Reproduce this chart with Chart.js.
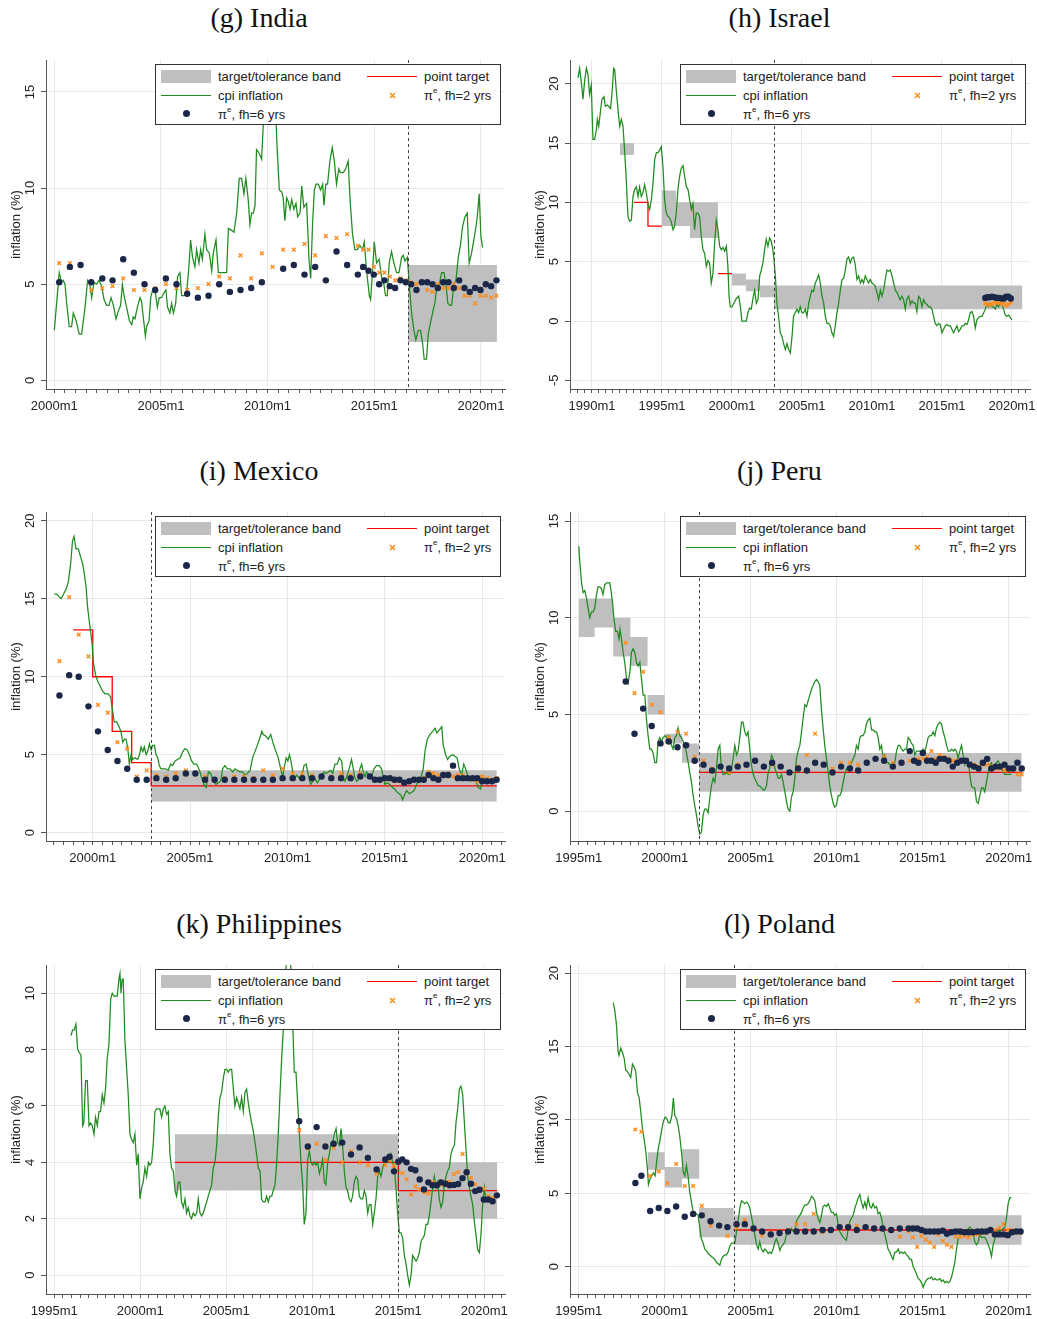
<!DOCTYPE html>
<html><head><meta charset="utf-8">
<script src="https://cdn.jsdelivr.net/npm/chart.js@4.4.1/dist/chart.umd.min.js"></script>
<style>
html,body{margin:0;padding:0;background:#fff;}
body{width:1037px;height:1319px;position:relative;overflow:hidden;font-family:"Liberation Sans",Arial,Helvetica,sans-serif;}
.ttl{position:absolute;height:30px;line-height:30px;text-align:center;font-family:"Liberation Serif","Times New Roman",serif;font-size:28px;color:#111;}
.wrap{position:absolute;}
.wrap canvas{display:block;}
.lg{position:absolute;box-sizing:border-box;width:346px;height:61px;background:#fff;border:1px solid #333;font-size:13px;color:#222;z-index:5;}
.lg .t{position:absolute;height:16px;line-height:16px;white-space:nowrap;}
.lg .t sup{font-size:8px;vertical-align:7px;line-height:0;}
.lg .sw{position:absolute;}
</style></head>
<body>
<script>
// ---------------- DATA ----------------
const TICK_SUFFIX = 'm1';
const SERIES_LABELS = ['target/tolerance band','point target','cpi inflation','π|e|, fh=2 yrs','π|e|, fh=6 yrs'];

// India
const IND_CPI = [[2000.0,2.6],[2000.23,5.6],[2000.34,5.1],[2000.42,5.2],[2000.5,5.0],[2000.58,4.0],[2000.7,2.8],[2000.81,2.8],[2000.89,3.5],[2001.02,3.1],[2001.17,2.4],[2001.28,2.4],[2001.44,3.8],[2001.56,5.2],[2001.67,5.0],[2001.75,4.3],[2001.86,5.1],[2001.98,5.0],[2002.1,5.2],[2002.22,4.9],[2002.33,4.2],[2002.45,3.9],[2002.56,3.9],[2002.66,4.3],[2002.77,3.9],[2002.89,3.2],[2003.0,3.6],[2003.11,3.9],[2003.19,5.0],[2003.27,4.4],[2003.39,3.8],[2003.52,3.1],[2003.63,2.9],[2003.7,3.3],[2003.78,3.2],[2003.89,3.8],[2004.02,4.3],[2004.09,4.1],[2004.17,3.3],[2004.27,2.3],[2004.33,2.8],[2004.44,3.1],[2004.52,4.3],[2004.61,4.7],[2004.72,4.7],[2004.83,3.8],[2004.92,4.3],[2005.03,4.3],[2005.11,4.5],[2005.23,4.7],[2005.31,3.8],[2005.42,3.5],[2005.5,4.0],[2005.58,3.5],[2005.69,4.0],[2005.78,5.4],[2005.89,5.6],[2005.97,4.4],[2006.08,4.4],[2006.2,4.5],[2006.31,5.9],[2006.39,7.3],[2006.48,6.4],[2006.59,5.9],[2006.67,6.8],[2006.78,6.1],[2006.86,6.8],[2006.94,6.3],[2007.06,7.6],[2007.14,6.8],[2007.27,6.6],[2007.38,5.7],[2007.45,6.6],[2007.58,7.3],[2007.69,5.6],[2007.84,5.6],[2008.08,5.6],[2008.16,7.9],[2008.31,7.8],[2008.42,7.7],[2008.55,8.7],[2008.67,10.5],[2008.78,10.5],[2008.89,9.7],[2008.98,10.5],[2009.09,9.4],[2009.17,8.1],[2009.25,8.7],[2009.33,8.7],[2009.41,9.1],[2009.48,12.0],[2009.61,11.8],[2009.72,11.5],[2009.8,13.4],[2009.88,14.7],[2009.95,15.6],[2010.1,16.2],[2010.25,15.5],[2010.39,13.6],[2010.45,12.0],[2010.55,9.9],[2010.66,9.8],[2010.73,9.5],[2010.81,8.3],[2010.89,9.5],[2010.97,9.3],[2011.05,8.9],[2011.13,9.4],[2011.23,8.9],[2011.33,9.2],[2011.41,8.5],[2011.52,8.7],[2011.6,10.1],[2011.7,9.0],[2011.83,9.2],[2011.94,6.3],[2012.02,5.3],[2012.11,8.2],[2012.19,9.9],[2012.27,10.2],[2012.38,10.2],[2012.48,9.9],[2012.58,10.2],[2012.64,9.1],[2012.73,10.2],[2012.81,10.2],[2012.92,11.4],[2013.03,12.1],[2013.13,11.4],[2013.23,10.2],[2013.34,11.0],[2013.42,10.8],[2013.55,10.8],[2013.66,11.0],[2013.78,11.4],[2013.86,9.5],[2013.98,7.6],[2014.09,6.8],[2014.2,6.8],[2014.33,7.0],[2014.45,6.8],[2014.53,7.2],[2014.64,5.7],[2014.77,4.4],[2014.83,4.2],[2014.92,5.7],[2015.0,7.2],[2015.11,6.1],[2015.23,6.3],[2015.34,5.4],[2015.45,5.0],[2015.53,4.4],[2015.61,4.4],[2015.7,6.1],[2015.81,6.7],[2015.92,6.1],[2016.05,5.6],[2016.16,5.6],[2016.28,6.4],[2016.36,6.5],[2016.44,6.2],[2016.55,6.4],[2016.64,5.0],[2016.75,3.5],[2016.86,2.6],[2016.95,2.1],[2017.06,2.6],[2017.17,2.6],[2017.27,1.9],[2017.34,1.1],[2017.45,1.1],[2017.53,2.4],[2017.64,3.0],[2017.77,3.7],[2017.84,4.0],[2017.95,5.0],[2018.05,5.0],[2018.16,5.6],[2018.27,5.6],[2018.36,5.0],[2018.45,4.0],[2018.55,3.9],[2018.63,3.9],[2018.73,5.0],[2018.83,5.2],[2018.94,6.4],[2019.05,7.1],[2019.14,8.0],[2019.25,8.5],[2019.36,8.7],[2019.45,6.1],[2019.56,6.6],[2019.67,7.3],[2019.77,8.0],[2019.83,8.5],[2019.92,9.7],[2020.0,7.5],[2020.08,6.9]];
const IND_PE6 = [[2000.23,5.1],[2000.73,5.9],[2001.23,6.0],[2001.73,5.1],[2002.25,5.3],[2002.73,5.2],[2003.23,6.3],[2003.73,5.6],[2004.23,5.0],[2004.73,4.7],[2005.23,5.3],[2005.73,5.0],[2006.23,4.5],[2006.73,4.3],[2007.23,4.4],[2007.73,5.0],[2008.23,4.6],[2008.73,4.7],[2009.23,4.8],[2009.73,5.1],[2010.73,5.8],[2011.23,6.0],[2011.73,5.5],[2012.23,5.9],[2012.73,5.2],[2013.23,6.7],[2013.73,6.0],[2014.23,5.5],[2014.48,5.9],[2014.73,5.7],[2014.98,5.5],[2015.23,5.0],[2015.48,5.2],[2015.73,4.9],[2015.98,4.8],[2016.23,5.2],[2016.48,5.1],[2016.73,5.0],[2016.98,4.7],[2017.23,5.1],[2017.48,5.1],[2017.73,5.0],[2017.98,4.8],[2018.23,5.1],[2018.48,5.1],[2018.73,4.8],[2018.98,5.2],[2019.23,4.8],[2019.48,4.6],[2019.73,4.8],[2019.98,4.7],[2020.23,5.0],[2020.48,4.9],[2020.73,5.2]];
const IND_PE2 = [[2000.23,6.1],[2000.73,6.1],[2001.73,4.7],[2002.25,4.8],[2002.73,4.9],[2003.23,5.3],[2003.73,4.7],[2004.23,4.7],[2004.73,4.8],[2005.23,5.0],[2005.73,4.8],[2006.23,4.7],[2006.73,4.8],[2007.23,5.0],[2007.73,5.4],[2008.23,5.3],[2008.73,6.5],[2009.23,5.3],[2009.73,6.6],[2010.23,5.9],[2010.73,6.8],[2011.23,6.8],[2011.73,7.1],[2012.23,6.5],[2012.73,7.5],[2013.23,7.4],[2013.73,7.6],[2014.23,7.0],[2014.48,6.8],[2014.73,6.8],[2014.98,5.9],[2015.23,5.6],[2015.48,5.6],[2015.73,5.4],[2015.98,5.2],[2016.23,5.3],[2016.48,5.2],[2016.73,5.1],[2016.98,5.0],[2017.23,5.1],[2017.48,4.7],[2017.73,4.6],[2017.98,5.0],[2018.23,4.8],[2018.48,4.8],[2018.73,5.0],[2018.98,4.8],[2019.23,4.4],[2019.48,4.4],[2019.73,4.0],[2019.98,4.4],[2020.23,4.4],[2020.48,4.3],[2020.73,4.4]];
const IND_BAND = [[2016.58,2020.75,2,6]];
const IND_TARGET = [];
const IND_REGIME = 2016.58;

// Israel
const ISR_CPI = [[1989.0,20.5],[1989.12,21.3],[1989.24,20.1],[1989.36,18.7],[1989.48,20.3],[1989.6,21.3],[1989.71,20.8],[1989.83,19.1],[1989.95,19.9],[1990.07,15.3],[1990.19,15.3],[1990.31,16.1],[1990.38,17.0],[1990.48,16.4],[1990.62,17.8],[1990.71,18.7],[1990.86,18.9],[1990.95,18.1],[1991.1,18.2],[1991.19,18.1],[1991.33,17.9],[1991.43,19.2],[1991.55,21.3],[1991.62,21.2],[1991.74,19.4],[1991.86,17.8],[1991.98,16.4],[1992.1,17.0],[1992.21,16.5],[1992.33,14.4],[1992.45,11.9],[1992.57,8.8],[1992.69,8.4],[1992.81,8.5],[1992.93,10.5],[1993.05,11.1],[1993.17,11.3],[1993.29,10.5],[1993.4,11.3],[1993.52,10.5],[1993.64,10.8],[1993.76,11.5],[1993.88,10.8],[1994.0,9.9],[1994.12,9.4],[1994.24,10.2],[1994.36,11.6],[1994.48,13.6],[1994.6,14.2],[1994.71,14.2],[1994.83,14.4],[1994.95,14.7],[1995.07,13.0],[1995.19,10.2],[1995.31,9.1],[1995.43,8.8],[1995.55,8.7],[1995.67,8.3],[1995.79,7.7],[1995.9,8.0],[1996.02,9.1],[1996.14,11.1],[1996.26,12.2],[1996.38,12.9],[1996.5,13.1],[1996.62,12.2],[1996.74,11.3],[1996.86,11.1],[1996.98,10.2],[1997.1,9.4],[1997.21,9.9],[1997.33,7.7],[1997.45,9.1],[1997.57,9.1],[1997.69,8.8],[1997.81,7.1],[1997.93,6.0],[1998.05,5.7],[1998.17,4.6],[1998.29,5.1],[1998.4,4.9],[1998.52,3.2],[1998.64,4.0],[1998.76,6.5],[1998.88,8.5],[1999.0,7.7],[1999.12,6.3],[1999.24,6.0],[1999.36,6.2],[1999.48,5.9],[1999.6,6.3],[1999.71,4.6],[1999.79,2.1],[1999.88,1.2],[2000.0,1.2],[2000.14,1.5],[2000.31,1.9],[2000.48,2.1],[2000.6,1.2],[2000.71,0.0],[2000.86,0.0],[2001.02,0.0],[2001.14,0.7],[2001.26,1.1],[2001.38,1.0],[2001.5,1.9],[2001.62,2.6],[2001.74,1.5],[2001.86,1.8],[2001.98,3.8],[2002.1,4.3],[2002.21,4.9],[2002.33,6.0],[2002.45,6.9],[2002.57,6.3],[2002.69,7.0],[2002.81,6.7],[2002.93,6.0],[2003.0,5.2],[2003.1,3.8],[2003.21,1.5],[2003.33,0.4],[2003.45,-1.0],[2003.57,-1.3],[2003.69,-1.9],[2003.81,-2.4],[2003.93,-1.9],[2004.05,-2.4],[2004.17,-2.7],[2004.29,-1.3],[2004.4,0.4],[2004.52,0.7],[2004.64,1.0],[2004.76,0.7],[2004.88,1.2],[2005.0,0.7],[2005.12,0.7],[2005.24,1.0],[2005.36,0.4],[2005.48,1.5],[2005.6,2.1],[2005.71,2.6],[2005.83,2.5],[2005.95,3.2],[2006.07,3.5],[2006.19,3.9],[2006.31,3.2],[2006.43,2.1],[2006.55,1.5],[2006.67,0.4],[2006.79,-0.2],[2006.9,-0.2],[2007.02,-0.4],[2007.14,-1.0],[2007.26,-1.3],[2007.38,-0.4],[2007.5,0.7],[2007.62,1.5],[2007.74,2.6],[2007.86,3.5],[2007.98,3.6],[2008.1,4.3],[2008.21,5.2],[2008.33,5.4],[2008.45,4.9],[2008.57,5.3],[2008.69,5.4],[2008.81,4.7],[2008.93,3.5],[2009.05,3.8],[2009.17,3.2],[2009.29,3.5],[2009.4,3.2],[2009.52,3.8],[2009.64,3.5],[2009.76,3.2],[2009.88,3.5],[2010.0,3.2],[2010.12,3.1],[2010.24,2.9],[2010.36,2.4],[2010.48,1.8],[2010.6,2.6],[2010.71,2.1],[2010.83,2.6],[2010.95,3.5],[2011.07,4.3],[2011.19,4.2],[2011.31,4.3],[2011.43,3.8],[2011.55,3.2],[2011.67,2.6],[2011.79,2.4],[2011.9,2.1],[2012.02,1.8],[2012.14,2.1],[2012.26,1.8],[2012.38,1.0],[2012.5,1.9],[2012.62,2.1],[2012.74,1.4],[2012.86,1.7],[2012.98,1.5],[2013.1,1.5],[2013.21,0.8],[2013.33,2.1],[2013.45,1.9],[2013.57,1.2],[2013.69,1.8],[2013.81,1.5],[2013.93,1.4],[2014.05,1.2],[2014.17,1.2],[2014.29,1.0],[2014.4,0.4],[2014.52,-0.2],[2014.64,-0.4],[2014.76,-0.2],[2014.88,-0.3],[2015.0,-1.0],[2015.12,-0.7],[2015.24,-0.4],[2015.36,-0.3],[2015.48,-0.4],[2015.6,-0.4],[2015.71,-0.7],[2015.83,-1.0],[2015.95,-0.7],[2016.07,-0.4],[2016.19,-0.9],[2016.31,-0.7],[2016.43,-0.4],[2016.55,-0.4],[2016.67,-0.2],[2016.79,-0.3],[2016.9,0.1],[2017.02,0.7],[2017.14,0.8],[2017.26,0.4],[2017.38,-0.6],[2017.5,0.1],[2017.62,0.3],[2017.74,0.4],[2017.86,0.4],[2017.98,0.7],[2018.1,1.0],[2018.21,1.5],[2018.33,1.2],[2018.45,1.5],[2018.57,1.2],[2018.69,1.2],[2018.81,1.0],[2018.93,1.4],[2019.05,1.2],[2019.17,1.5],[2019.29,1.4],[2019.4,1.0],[2019.52,0.5],[2019.64,0.4],[2019.76,0.5],[2019.88,0.3],[2020.0,0.1]];
const ISR_PE6 = [[2018.1,1.95],[2018.25,2.0],[2018.42,2.0],[2018.58,2.05],[2018.75,2.0],[2018.92,1.95],[2019.08,1.95],[2019.25,1.9],[2019.42,1.9],[2019.58,2.05],[2019.75,2.05],[2019.92,1.9]];
const ISR_PE2 = [[2018.1,1.5],[2018.25,1.4],[2018.42,1.35],[2018.58,1.45],[2018.75,1.5],[2018.92,1.6],[2019.08,1.55],[2019.25,1.45],[2019.42,1.5],[2019.58,1.3],[2019.75,1.4],[2019.92,1.55]];
const ISR_BAND = [[1992,1993,14,15],[1995,1996,8,11],[1996,1997,8,10],[1997,1999,7,10],[2000,2001,3,4],[2001,2002,2.5,3.5],[2002,2003,2,3],[2003,2020.75,1,3]];
const ISR_TARGET = [[1993,1994,10],[1994,1995,8],[1999,2000,4]];
const ISR_REGIME = 2003.0;

// Mexico
const MEX_CPI = [[1998.03,15.3],[1998.15,15.3],[1998.29,15.1],[1998.38,15.0],[1998.5,15.3],[1998.63,15.6],[1998.75,16.1],[1998.87,17.3],[1998.96,18.7],[1999.04,19.0],[1999.14,18.2],[1999.26,18.2],[1999.35,17.8],[1999.47,17.3],[1999.57,16.6],[1999.66,15.7],[1999.74,14.4],[1999.86,13.2],[1999.97,12.1],[2000.03,10.9],[2000.15,10.1],[2000.26,9.7],[2000.38,9.4],[2000.5,9.1],[2000.63,8.9],[2000.8,8.9],[2000.92,8.7],[2001.0,8.0],[2001.1,7.1],[2001.23,7.1],[2001.35,6.8],[2001.45,6.5],[2001.54,5.8],[2001.63,6.0],[2001.71,6.0],[2001.8,5.4],[2001.88,4.4],[2001.97,5.0],[2002.05,4.7],[2002.17,4.8],[2002.31,4.7],[2002.4,5.0],[2002.48,5.5],[2002.57,5.2],[2002.65,5.5],[2002.74,5.0],[2002.82,5.2],[2002.91,5.7],[2003.0,5.3],[2003.08,5.6],[2003.17,5.6],[2003.25,5.0],[2003.34,4.8],[2003.42,4.3],[2003.5,4.1],[2003.63,4.1],[2003.75,4.1],[2003.88,4.0],[2004.0,4.4],[2004.1,4.3],[2004.23,4.6],[2004.35,4.7],[2004.49,4.8],[2004.62,5.2],[2004.74,5.4],[2004.86,5.3],[2004.96,5.0],[2005.08,4.6],[2005.2,4.4],[2005.34,4.4],[2005.48,4.0],[2005.6,3.5],[2005.71,3.1],[2005.82,2.9],[2005.94,3.9],[2006.06,3.8],[2006.19,3.3],[2006.33,3.1],[2006.45,3.2],[2006.57,3.3],[2006.67,4.1],[2006.79,4.3],[2006.91,4.1],[2007.05,4.1],[2007.19,3.9],[2007.3,4.1],[2007.42,4.0],[2007.56,3.9],[2007.7,3.9],[2007.82,3.7],[2007.94,3.8],[2008.08,4.0],[2008.21,4.8],[2008.33,5.2],[2008.45,5.6],[2008.59,6.1],[2008.68,6.5],[2008.76,6.3],[2008.88,6.2],[2009.02,6.0],[2009.14,6.3],[2009.27,5.7],[2009.41,5.2],[2009.53,4.8],[2009.65,4.1],[2009.75,3.6],[2009.84,4.2],[2009.93,4.8],[2010.02,4.6],[2010.1,5.0],[2010.18,4.6],[2010.27,3.9],[2010.35,3.4],[2010.47,3.7],[2010.61,3.5],[2010.73,3.6],[2010.85,4.3],[2010.96,4.4],[2011.07,3.7],[2011.19,3.1],[2011.29,3.3],[2011.41,3.5],[2011.53,3.2],[2011.63,3.4],[2011.75,3.6],[2011.87,3.9],[2011.98,3.8],[2012.1,3.9],[2012.22,4.0],[2012.32,3.8],[2012.44,4.4],[2012.56,4.4],[2012.66,4.8],[2012.78,4.6],[2012.87,3.5],[2012.95,3.3],[2013.04,3.6],[2013.12,3.9],[2013.21,4.3],[2013.29,4.7],[2013.38,4.1],[2013.46,3.5],[2013.55,3.3],[2013.64,3.4],[2013.72,4.1],[2013.81,4.4],[2013.89,3.9],[2013.98,3.6],[2014.06,3.9],[2014.2,3.7],[2014.32,3.6],[2014.44,4.1],[2014.57,4.3],[2014.71,4.3],[2014.83,4.1],[2014.91,3.6],[2015.0,3.1],[2015.12,3.2],[2015.26,3.1],[2015.4,2.9],[2015.51,2.8],[2015.63,2.6],[2015.74,2.5],[2015.83,2.4],[2015.91,2.1],[2016.0,2.4],[2016.12,2.7],[2016.26,2.5],[2016.38,2.6],[2016.5,2.7],[2016.63,3.1],[2016.77,3.3],[2016.89,3.7],[2016.97,4.1],[2017.06,5.2],[2017.18,6.0],[2017.32,6.3],[2017.46,6.5],[2017.58,6.7],[2017.67,6.4],[2017.8,6.6],[2017.92,6.8],[2018.0,5.6],[2018.12,5.0],[2018.22,4.7],[2018.34,4.9],[2018.48,5.0],[2018.6,4.9],[2018.71,4.8],[2018.82,4.1],[2018.94,3.7],[2019.05,4.4],[2019.15,4.1],[2019.27,3.6],[2019.39,3.3],[2019.53,3.5],[2019.67,3.3],[2019.8,2.9],[2019.92,2.8],[2020.02,3.6],[2020.14,3.4],[2020.22,3.5]];
const MEX_PE6 = [[1998.29,8.8],[1998.79,10.1],[1999.28,10.0],[1999.78,8.1],[2000.27,6.5],[2000.77,5.3],[2001.27,4.6],[2001.77,4.1],[2002.26,3.4],[2002.77,3.4],[2003.27,3.5],[2003.77,3.4],[2004.26,3.5],[2004.78,3.8],[2005.27,3.8],[2005.77,3.4],[2006.26,3.4],[2006.78,3.4],[2007.27,3.4],[2007.77,3.4],[2008.26,3.4],[2008.76,3.4],[2009.25,3.4],[2009.75,3.5],[2010.27,3.5],[2010.76,3.5],[2011.26,3.5],[2011.75,3.6],[2012.25,3.5],[2012.75,3.5],[2013.24,3.5],[2013.74,3.6],[2014.23,3.6],[2014.49,3.4],[2014.74,3.4],[2015.0,3.5],[2015.26,3.5],[2015.5,3.4],[2015.75,3.4],[2016.0,3.2],[2016.25,3.3],[2016.5,3.4],[2016.75,3.4],[2017.0,3.4],[2017.25,3.7],[2017.5,3.5],[2017.75,3.4],[2018.0,3.7],[2018.25,3.7],[2018.5,4.3],[2018.75,3.5],[2019.0,3.5],[2019.24,3.5],[2019.5,3.5],[2019.75,3.5],[2020.0,3.3],[2020.25,3.3],[2020.5,3.3],[2020.74,3.4]];
const MEX_PE2 = [[1998.29,11.0],[1998.79,15.1],[1999.28,12.7],[1999.78,11.3],[2000.27,8.2],[2000.77,7.7],[2001.27,5.8],[2001.77,5.4],[2002.26,3.6],[2002.77,4.0],[2003.27,3.7],[2003.77,3.6],[2004.26,3.8],[2004.78,4.0],[2005.27,3.8],[2005.77,3.6],[2006.26,3.4],[2006.78,3.5],[2007.27,3.6],[2007.77,3.6],[2008.26,3.5],[2008.76,4.0],[2009.25,3.7],[2009.75,4.1],[2010.27,3.8],[2010.76,3.8],[2011.26,3.7],[2011.75,3.6],[2012.25,3.6],[2012.75,3.8],[2013.24,3.7],[2013.74,3.8],[2014.23,3.6],[2014.49,3.4],[2014.74,3.4],[2015.0,3.4],[2015.26,3.4],[2015.5,3.3],[2015.75,3.3],[2016.0,3.2],[2016.25,3.3],[2016.5,3.4],[2016.75,3.4],[2017.0,3.5],[2017.25,3.9],[2017.5,3.8],[2017.75,3.7],[2018.0,3.7],[2018.25,3.8],[2018.5,3.6],[2018.75,3.7],[2019.0,3.7],[2019.24,3.5],[2019.5,3.4],[2019.75,3.3],[2020.0,3.6],[2020.25,3.5],[2020.5,3.4],[2020.74,3.5]];
const MEX_BAND = [[2003,2020.75,2,4]];
const MEX_TARGET = [[1999,2000,13],[2000,2001,10],[2001,2002,6.5],[2002,2003,4.5],[2003,2020.75,3]];
const MEX_REGIME = 2003.0;

// Peru
const PER_CPI = [[1995.0,13.7],[1995.06,12.9],[1995.16,11.8],[1995.25,11.3],[1995.35,11.4],[1995.45,11.0],[1995.54,10.5],[1995.64,10.0],[1995.74,10.3],[1995.83,10.3],[1995.93,10.5],[1996.03,11.2],[1996.12,11.6],[1996.22,11.6],[1996.32,11.5],[1996.41,11.2],[1996.51,11.7],[1996.61,11.8],[1996.71,11.8],[1996.8,11.8],[1996.86,11.5],[1996.96,10.8],[1997.05,9.9],[1997.15,9.3],[1997.25,9.3],[1997.34,8.9],[1997.4,9.4],[1997.48,8.9],[1997.58,8.2],[1997.67,7.7],[1997.77,6.9],[1997.87,6.6],[1997.97,7.2],[1998.06,8.2],[1998.16,8.4],[1998.26,8.2],[1998.35,7.7],[1998.45,7.5],[1998.55,7.7],[1998.64,6.9],[1998.74,6.0],[1998.84,6.0],[1998.93,4.8],[1999.03,3.9],[1999.13,3.2],[1999.22,3.2],[1999.32,3.0],[1999.42,2.5],[1999.52,2.5],[1999.61,3.6],[1999.71,3.8],[1999.81,3.6],[1999.9,3.8],[2000.0,3.9],[2000.1,3.8],[2000.19,3.9],[2000.29,3.8],[2000.39,3.4],[2000.48,3.2],[2000.58,3.8],[2000.68,3.9],[2000.77,4.3],[2000.87,3.9],[2000.97,3.8],[2001.07,3.6],[2001.16,3.4],[2001.26,3.0],[2001.36,2.5],[2001.45,2.0],[2001.55,1.5],[2001.65,0.8],[2001.74,0.3],[2001.84,-0.2],[2001.94,-0.8],[2002.03,-1.2],[2002.13,-1.1],[2002.23,-0.2],[2002.32,0.1],[2002.42,0.1],[2002.52,-0.1],[2002.62,0.7],[2002.71,1.3],[2002.81,1.7],[2002.91,1.5],[2003.0,2.2],[2003.1,3.2],[2003.2,3.4],[2003.29,2.2],[2003.39,1.9],[2003.49,1.9],[2003.59,2.0],[2003.68,1.9],[2003.78,1.9],[2003.88,2.2],[2003.97,2.7],[2004.07,3.4],[2004.17,2.9],[2004.26,3.1],[2004.36,3.8],[2004.46,4.6],[2004.55,4.6],[2004.65,4.1],[2004.75,3.9],[2004.84,4.1],[2004.94,3.2],[2005.03,2.4],[2005.14,1.9],[2005.23,1.7],[2005.33,1.5],[2005.43,1.3],[2005.52,1.3],[2005.62,1.2],[2005.72,1.1],[2005.81,1.1],[2005.91,1.3],[2006.01,2.0],[2006.1,2.2],[2006.2,2.9],[2006.3,2.7],[2006.4,2.2],[2006.49,2.0],[2006.59,1.7],[2006.69,1.7],[2006.78,1.9],[2006.88,1.5],[2006.98,1.0],[2007.07,0.5],[2007.17,0.1],[2007.27,0.0],[2007.36,0.7],[2007.46,1.0],[2007.56,1.7],[2007.65,2.7],[2007.75,3.1],[2007.85,3.4],[2007.95,4.1],[2008.04,4.8],[2008.14,5.5],[2008.24,5.4],[2008.33,5.7],[2008.43,6.0],[2008.53,6.3],[2008.62,6.5],[2008.72,6.7],[2008.82,6.8],[2008.91,6.7],[2009.01,6.5],[2009.11,5.2],[2009.2,4.3],[2009.3,3.4],[2009.4,2.7],[2009.5,2.0],[2009.59,1.3],[2009.69,0.8],[2009.79,0.4],[2009.88,0.2],[2009.98,0.3],[2010.08,0.8],[2010.17,0.8],[2010.27,1.0],[2010.37,1.5],[2010.46,1.9],[2010.56,2.2],[2010.66,2.2],[2010.76,2.2],[2010.85,2.5],[2010.95,2.7],[2011.05,2.9],[2011.14,3.4],[2011.24,3.2],[2011.34,3.8],[2011.43,3.9],[2011.53,3.9],[2011.63,4.1],[2011.72,4.5],[2011.82,4.7],[2011.92,4.8],[2012.02,4.2],[2012.11,4.2],[2012.21,4.1],[2012.31,4.1],[2012.4,3.8],[2012.5,3.2],[2012.6,3.4],[2012.69,2.7],[2012.79,2.9],[2012.89,2.5],[2012.98,2.5],[2013.08,2.4],[2013.18,2.4],[2013.27,2.5],[2013.37,2.5],[2013.47,3.1],[2013.57,3.4],[2013.66,3.4],[2013.76,3.2],[2013.86,3.1],[2013.95,3.2],[2014.05,3.2],[2014.15,3.8],[2014.24,3.7],[2014.34,3.5],[2014.44,3.4],[2014.53,2.9],[2014.63,3.1],[2014.73,3.1],[2014.83,3.1],[2014.92,3.0],[2015.02,3.2],[2015.12,3.1],[2015.21,3.4],[2015.31,3.8],[2015.41,3.9],[2015.5,3.9],[2015.6,4.1],[2015.7,3.9],[2015.79,4.3],[2015.89,4.5],[2015.99,4.6],[2016.09,4.5],[2016.18,4.1],[2016.28,3.8],[2016.38,3.4],[2016.48,3.1],[2016.57,3.1],[2016.67,3.2],[2016.77,3.1],[2016.86,3.2],[2016.96,3.1],[2017.05,2.7],[2017.15,3.1],[2017.25,3.4],[2017.34,2.9],[2017.44,2.4],[2017.54,2.7],[2017.64,2.7],[2017.73,1.9],[2017.83,1.3],[2017.93,1.2],[2018.02,1.2],[2018.12,0.5],[2018.22,0.4],[2018.31,0.8],[2018.41,1.2],[2018.51,1.2],[2018.6,1.0],[2018.7,1.5],[2018.8,2.0],[2018.9,2.4],[2018.99,2.5],[2019.09,2.2],[2019.19,2.4],[2019.28,2.5],[2019.38,2.6],[2019.48,2.4],[2019.57,2.2],[2019.67,2.0],[2019.77,1.9],[2019.86,1.9],[2019.96,1.9],[2020.15,1.9]];
const PER_PE6 = [[1997.73,6.7],[1998.24,4.0],[1998.74,5.3],[1999.24,4.4],[1999.75,3.5],[2000.23,3.6],[2000.74,3.3],[2001.24,3.4],[2001.74,2.6],[2002.25,2.4],[2002.75,2.1],[2003.24,2.3],[2003.74,2.2],[2004.24,2.3],[2004.75,2.4],[2005.25,2.6],[2005.76,2.3],[2006.24,2.5],[2006.74,2.3],[2007.25,2.0],[2007.75,2.2],[2008.26,2.1],[2008.74,2.5],[2009.24,2.4],[2009.75,2.0],[2010.25,2.3],[2010.76,2.2],[2011.24,2.1],[2011.74,2.5],[2012.25,2.7],[2012.75,2.6],[2013.26,2.3],[2013.76,2.5],[2014.24,3.1],[2014.49,2.6],[2014.74,2.5],[2015.0,3.0],[2015.25,2.6],[2015.5,2.6],[2015.75,2.5],[2015.98,2.7],[2016.24,2.7],[2016.49,2.6],[2016.74,2.3],[2017.0,2.5],[2017.25,2.6],[2017.5,2.6],[2017.73,2.4],[2017.98,2.3],[2018.24,2.2],[2018.49,2.5],[2018.74,2.7],[2018.99,2.2],[2019.24,2.3],[2019.49,2.3],[2019.75,2.4],[2020.0,2.2],[2020.25,2.2],[2020.5,2.5],[2020.75,2.2]];
const PER_PE2 = [[1997.73,8.7],[1998.24,6.1],[1998.74,7.2],[1999.24,5.5],[1999.75,5.1],[2000.23,3.8],[2000.74,4.1],[2001.24,4.0],[2001.74,2.8],[2002.25,2.6],[2002.75,2.2],[2003.24,2.3],[2003.74,2.0],[2004.24,2.4],[2004.75,2.4],[2005.25,2.6],[2005.76,2.3],[2006.24,2.4],[2006.74,2.3],[2007.25,2.0],[2007.75,2.3],[2008.26,2.9],[2008.74,4.0],[2009.24,2.4],[2009.75,2.2],[2010.25,2.5],[2010.76,2.5],[2011.24,2.4],[2011.74,2.5],[2012.25,2.7],[2012.75,2.8],[2013.26,2.5],[2013.76,2.5],[2014.24,2.6],[2014.49,2.6],[2014.74,2.7],[2015.0,2.7],[2015.25,2.8],[2015.5,3.1],[2015.75,2.7],[2015.98,2.9],[2016.24,2.8],[2016.49,2.7],[2016.74,2.6],[2017.0,2.6],[2017.25,2.6],[2017.5,2.6],[2017.73,2.4],[2017.98,2.4],[2018.24,2.3],[2018.49,2.4],[2018.74,2.4],[2018.99,2.3],[2019.24,2.2],[2019.49,2.2],[2019.75,2.1],[2020.0,2.1],[2020.25,2.2],[2020.5,1.9],[2020.75,1.9]];
const PER_BAND = [[1995,1995.92,9,11],[1995.92,1997,9.5,11],[1997,1998,8,10],[1998,1999,7.5,9],[1999,2000,5,6],[2000,2001,3.5,4],[2001,2002,2.5,3.5],[2002,2020.75,1,3]];
const PER_TARGET = [[2002,2020.75,2]];
const PER_REGIME = 2002.0;

// Philippines
const PHL_CPI = [[1995.97,8.5],[1996.07,8.7],[1996.16,8.7],[1996.26,8.9],[1996.36,8.0],[1996.45,7.9],[1996.55,7.8],[1996.65,5.3],[1996.72,5.4],[1996.82,6.9],[1996.92,6.9],[1997.02,5.3],[1997.11,5.4],[1997.21,5.3],[1997.31,5.0],[1997.4,5.6],[1997.5,5.3],[1997.6,5.8],[1997.69,5.8],[1997.79,6.4],[1997.89,6.1],[1997.98,6.6],[1998.08,7.7],[1998.18,8.2],[1998.28,9.8],[1998.37,10.0],[1998.47,9.9],[1998.57,9.9],[1998.66,9.9],[1998.76,10.5],[1998.82,10.7],[1998.88,10.0],[1998.95,10.5],[1999.01,10.5],[1999.11,8.3],[1999.21,7.3],[1999.3,6.4],[1999.4,5.0],[1999.5,4.8],[1999.59,4.7],[1999.69,5.0],[1999.79,3.9],[1999.88,4.3],[1999.98,2.7],[2000.08,3.1],[2000.17,3.3],[2000.27,3.8],[2000.37,3.5],[2000.47,4.0],[2000.56,3.9],[2000.66,4.0],[2000.76,4.7],[2000.85,5.8],[2000.95,5.9],[2001.05,5.9],[2001.14,5.9],[2001.24,5.6],[2001.34,5.9],[2001.43,6.0],[2001.53,5.7],[2001.63,5.8],[2001.72,4.3],[2001.82,3.8],[2001.92,3.7],[2002.02,3.0],[2002.11,2.8],[2002.21,3.3],[2002.31,3.3],[2002.4,2.6],[2002.5,2.4],[2002.6,2.7],[2002.69,2.2],[2002.79,2.4],[2002.89,2.1],[2002.98,2.0],[2003.08,2.2],[2003.18,2.1],[2003.28,2.2],[2003.37,2.7],[2003.47,2.2],[2003.57,2.1],[2003.66,2.2],[2003.76,2.4],[2003.86,2.6],[2003.95,2.8],[2004.05,3.0],[2004.15,3.2],[2004.24,3.8],[2004.34,4.0],[2004.44,4.6],[2004.53,5.6],[2004.63,6.3],[2004.73,6.5],[2004.83,7.0],[2004.92,7.3],[2005.02,7.3],[2005.12,7.2],[2005.21,7.3],[2005.31,7.3],[2005.41,6.6],[2005.5,6.0],[2005.6,6.3],[2005.7,6.1],[2005.79,5.9],[2005.89,6.3],[2005.99,5.8],[2006.09,6.5],[2006.18,6.6],[2006.28,6.1],[2006.38,5.7],[2006.47,5.4],[2006.57,5.1],[2006.67,4.7],[2006.76,4.3],[2006.86,3.8],[2006.96,3.7],[2007.05,2.7],[2007.15,2.6],[2007.25,2.6],[2007.34,2.8],[2007.44,2.6],[2007.54,2.8],[2007.64,2.8],[2007.73,3.0],[2007.83,3.2],[2007.93,4.0],[2008.02,5.0],[2008.12,6.4],[2008.22,7.7],[2008.31,8.7],[2008.41,10.2],[2008.51,11.3],[2008.7,11.6],[2008.8,10.2],[2008.9,8.2],[2008.95,7.2],[2009.05,7.2],[2009.15,6.1],[2009.24,5.1],[2009.34,4.0],[2009.44,3.2],[2009.53,1.8],[2009.63,2.2],[2009.73,4.1],[2009.83,4.4],[2009.92,4.0],[2010.02,3.9],[2010.12,4.0],[2010.21,3.9],[2010.31,4.0],[2010.41,3.6],[2010.5,3.8],[2010.6,4.1],[2010.7,3.3],[2010.79,3.2],[2010.89,4.0],[2010.99,4.3],[2011.09,4.7],[2011.18,4.7],[2011.28,5.0],[2011.38,5.2],[2011.47,4.7],[2011.57,4.6],[2011.67,5.2],[2011.76,4.6],[2011.86,3.7],[2011.96,3.1],[2012.05,3.0],[2012.15,2.7],[2012.25,2.6],[2012.34,2.8],[2012.44,3.3],[2012.54,3.5],[2012.64,3.4],[2012.73,2.8],[2012.83,2.7],[2012.93,2.7],[2013.02,3.0],[2013.12,2.8],[2013.22,2.2],[2013.31,2.5],[2013.41,2.5],[2013.51,1.8],[2013.6,2.2],[2013.7,2.7],[2013.8,3.5],[2013.9,3.7],[2013.99,3.5],[2014.09,3.8],[2014.19,4.0],[2014.28,4.1],[2014.38,4.0],[2014.48,4.1],[2014.57,4.3],[2014.67,4.0],[2014.77,3.8],[2014.86,3.1],[2014.96,2.2],[2015.06,1.5],[2015.16,1.5],[2015.25,1.3],[2015.35,0.7],[2015.45,0.4],[2015.54,0.0],[2015.64,-0.35],[2015.74,0.0],[2015.83,0.7],[2015.93,0.6],[2016.03,0.5],[2016.12,0.6],[2016.22,0.8],[2016.32,1.2],[2016.41,1.3],[2016.51,1.4],[2016.61,1.8],[2016.71,1.8],[2016.8,2.1],[2016.9,2.6],[2017.0,3.1],[2017.09,3.5],[2017.19,3.1],[2017.29,3.3],[2017.38,2.7],[2017.48,2.4],[2017.58,2.6],[2017.67,3.2],[2017.77,3.5],[2017.87,3.7],[2017.96,3.8],[2018.06,4.3],[2018.16,4.5],[2018.26,4.6],[2018.35,5.4],[2018.45,5.9],[2018.55,6.6],[2018.64,6.7],[2018.74,6.4],[2018.84,5.4],[2018.93,4.5],[2019.03,3.5],[2019.13,3.1],[2019.22,2.8],[2019.32,2.5],[2019.42,1.9],[2019.52,1.4],[2019.61,0.9],[2019.71,0.8],[2019.81,1.5],[2019.9,2.5],[2020.0,3.1],[2020.1,2.6],[2020.19,2.6]];
const PHL_PE6 = [[2009.24,5.46],[2009.74,4.56],[2010.25,5.25],[2010.76,4.56],[2011.24,4.66],[2011.74,4.7],[2012.25,4.28],[2012.75,4.53],[2013.23,4.16],[2013.74,3.75],[2014.24,4.1],[2014.49,4.2],[2014.75,3.68],[2015.0,4.02],[2015.23,4.1],[2015.48,4.0],[2015.74,3.77],[2015.99,3.72],[2016.24,3.39],[2016.49,3.04],[2016.74,3.29],[2016.99,3.19],[2017.24,3.19],[2017.48,3.29],[2017.73,3.24],[2017.98,3.19],[2018.23,3.2],[2018.48,3.23],[2018.73,3.44],[2018.97,3.65],[2019.22,3.24],[2019.47,2.98],[2019.72,3.03],[2019.97,2.68],[2020.22,2.68],[2020.48,2.62],[2020.73,2.83]];
const PHL_PE2 = [[2009.24,5.14],[2009.74,4.49],[2010.25,4.66],[2010.76,4.08],[2011.24,4.52],[2011.74,4.0],[2012.25,4.4],[2012.75,4.0],[2013.23,3.9],[2013.74,3.6],[2014.24,3.9],[2014.49,4.07],[2014.75,3.87],[2015.0,3.71],[2015.23,3.62],[2015.48,3.4],[2015.74,2.86],[2015.99,3.14],[2016.24,3.04],[2016.49,2.93],[2016.74,2.9],[2016.99,3.3],[2017.24,3.2],[2017.48,3.2],[2017.73,3.3],[2017.98,3.3],[2018.23,3.58],[2018.48,3.65],[2018.73,4.3],[2018.97,3.6],[2019.22,3.45],[2019.47,3.22],[2019.72,3.0],[2019.97,3.07],[2020.22,2.8],[2020.48,2.74],[2020.73,2.8]];
const PHL_BAND = [[2002,2015,3,5],[2015,2020.75,2,4]];
const PHL_TARGET = [[2002,2015,4],[2015,2020.75,3]];
const PHL_REGIME = 2015.0;

// Poland
const POL_CPI = [[1997.0,18.0],[1997.09,17.5],[1997.19,16.5],[1997.29,14.6],[1997.34,14.4],[1997.44,14.9],[1997.54,14.6],[1997.64,14.2],[1997.73,13.4],[1997.83,13.3],[1997.93,13.1],[1998.02,12.9],[1998.12,13.8],[1998.22,13.6],[1998.31,13.3],[1998.41,11.9],[1998.51,11.5],[1998.6,10.6],[1998.7,9.4],[1998.8,8.7],[1998.9,7.8],[1998.99,6.7],[1999.05,5.6],[1999.15,6.0],[1999.24,6.2],[1999.34,6.4],[1999.44,6.2],[1999.53,7.2],[1999.63,8.1],[1999.73,8.7],[1999.83,9.4],[1999.92,9.9],[2000.02,10.2],[2000.12,10.1],[2000.21,9.8],[2000.31,9.8],[2000.41,10.3],[2000.5,11.5],[2000.58,10.3],[2000.68,10.1],[2000.78,9.6],[2000.87,8.9],[2000.97,7.8],[2001.07,6.5],[2001.16,6.2],[2001.26,6.9],[2001.36,6.1],[2001.45,5.1],[2001.55,4.4],[2001.65,3.7],[2001.74,3.7],[2001.84,3.6],[2001.94,3.5],[2002.04,2.6],[2002.13,1.9],[2002.23,1.6],[2002.33,1.2],[2002.42,1.1],[2002.52,0.9],[2002.62,0.8],[2002.71,0.7],[2002.81,0.6],[2002.91,0.5],[2003.0,0.3],[2003.1,0.2],[2003.2,0.1],[2003.29,0.5],[2003.39,0.7],[2003.49,0.8],[2003.59,0.8],[2003.68,1.0],[2003.78,1.4],[2003.88,1.6],[2003.97,1.6],[2004.07,1.6],[2004.17,2.4],[2004.26,3.1],[2004.36,4.0],[2004.46,4.5],[2004.55,4.4],[2004.65,4.3],[2004.75,4.4],[2004.84,4.3],[2004.94,4.0],[2005.04,3.4],[2005.14,2.8],[2005.23,2.2],[2005.33,1.5],[2005.43,1.2],[2005.52,1.7],[2005.62,1.2],[2005.72,1.0],[2005.81,1.2],[2005.91,1.1],[2006.01,0.9],[2006.1,1.0],[2006.2,0.9],[2006.3,1.2],[2006.4,1.7],[2006.49,1.9],[2006.59,1.6],[2006.69,1.1],[2006.78,1.4],[2006.88,1.5],[2006.98,1.7],[2007.07,2.2],[2007.17,2.4],[2007.27,2.3],[2007.36,2.6],[2007.46,2.4],[2007.56,2.4],[2007.65,3.1],[2007.75,3.3],[2007.85,3.5],[2007.95,3.7],[2008.04,4.0],[2008.14,4.2],[2008.24,4.2],[2008.33,4.3],[2008.43,4.5],[2008.53,4.8],[2008.62,4.7],[2008.72,4.5],[2008.82,3.7],[2008.91,3.3],[2009.01,3.0],[2009.11,3.5],[2009.2,4.1],[2009.3,4.2],[2009.4,4.1],[2009.5,4.3],[2009.59,4.0],[2009.69,3.7],[2009.79,3.7],[2009.88,3.5],[2009.98,3.6],[2010.08,2.8],[2010.17,2.4],[2010.27,2.2],[2010.37,2.0],[2010.46,1.9],[2010.56,1.8],[2010.66,2.6],[2010.76,3.1],[2010.85,3.3],[2010.95,3.5],[2011.05,4.0],[2011.14,4.3],[2011.24,4.7],[2011.34,4.9],[2011.43,4.4],[2011.53,4.0],[2011.63,4.4],[2011.72,4.0],[2011.82,4.7],[2011.92,4.1],[2012.02,4.0],[2012.11,4.3],[2012.21,4.0],[2012.31,4.1],[2012.4,3.6],[2012.5,3.7],[2012.6,3.3],[2012.69,2.7],[2012.79,2.2],[2012.89,1.7],[2012.98,1.2],[2013.08,1.0],[2013.18,0.7],[2013.27,0.5],[2013.37,1.0],[2013.47,1.0],[2013.57,1.2],[2013.66,0.9],[2013.76,1.0],[2013.86,0.9],[2013.95,1.0],[2014.05,0.8],[2014.15,0.7],[2014.24,0.5],[2014.34,0.5],[2014.44,0.0],[2014.53,-0.2],[2014.63,-0.5],[2014.73,-0.8],[2014.83,-0.9],[2014.92,-1.1],[2015.02,-1.4],[2015.12,-1.1],[2015.21,-0.9],[2015.31,-0.8],[2015.41,-0.8],[2015.5,-0.7],[2015.6,-0.9],[2015.7,-0.8],[2015.79,-0.9],[2015.89,-0.9],[2015.99,-0.8],[2016.09,-1.0],[2016.18,-0.9],[2016.28,-1.1],[2016.38,-1.0],[2016.48,-1.1],[2016.57,-1.0],[2016.67,-0.7],[2016.77,-0.2],[2016.86,0.3],[2016.96,1.2],[2017.05,1.9],[2017.15,2.0],[2017.25,2.2],[2017.34,2.2],[2017.44,2.3],[2017.54,2.4],[2017.64,2.6],[2017.73,2.7],[2017.83,2.6],[2017.93,2.3],[2018.02,1.7],[2018.12,1.5],[2018.22,1.7],[2018.31,2.2],[2018.41,2.0],[2018.51,2.0],[2018.6,2.0],[2018.7,1.8],[2018.8,1.5],[2018.9,1.2],[2018.99,0.7],[2019.09,1.5],[2019.19,1.9],[2019.28,2.4],[2019.38,2.5],[2019.48,2.4],[2019.57,2.5],[2019.67,2.6],[2019.77,2.7],[2019.86,3.3],[2019.96,4.3],[2020.06,4.7],[2020.15,4.7]];
const POL_PE6 = [[1998.29,5.7],[1998.64,6.2],[1999.15,3.8],[1999.65,4.0],[2000.15,3.8],[2000.66,4.1],[2001.16,3.4],[2001.65,3.6],[2002.15,3.5],[2002.66,3.1],[2003.16,2.8],[2003.64,2.7],[2004.17,2.9],[2004.65,2.9],[2005.16,2.6],[2005.66,2.4],[2006.16,2.2],[2006.67,2.3],[2007.17,2.4],[2007.66,2.4],[2008.16,2.4],[2008.66,2.4],[2009.17,2.5],[2009.65,2.5],[2010.16,2.7],[2010.66,2.7],[2011.16,2.5],[2011.67,2.7],[2012.17,2.6],[2012.66,2.6],[2013.16,2.5],[2013.66,2.6],[2014.17,2.6],[2014.42,2.6],[2014.67,2.6],[2014.92,2.5],[2015.17,2.4],[2015.41,2.4],[2015.66,2.4],[2015.9,2.4],[2016.16,2.45],[2016.4,2.25],[2016.66,2.35],[2016.91,2.4],[2017.16,2.4],[2017.42,2.35],[2017.67,2.35],[2017.93,2.35],[2018.18,2.4],[2018.43,2.4],[2018.68,2.4],[2018.93,2.5],[2019.19,2.2],[2019.44,2.2],[2019.69,2.2],[2019.94,2.15],[2020.18,2.35],[2020.43,2.4],[2020.68,2.4]];
const POL_PE2 = [[1998.29,9.35],[1998.64,9.2],[1999.15,6.2],[1999.65,6.5],[2000.15,5.7],[2000.66,7.0],[2001.16,5.5],[2001.65,5.5],[2002.15,4.15],[2002.66,2.8],[2003.16,2.8],[2003.64,2.1],[2004.17,2.65],[2004.65,3.2],[2005.16,2.6],[2005.66,2.15],[2006.16,2.3],[2006.67,2.4],[2007.17,2.5],[2007.66,2.9],[2008.16,2.9],[2008.66,3.6],[2009.17,2.35],[2009.65,2.5],[2010.16,2.6],[2010.66,2.8],[2011.16,2.8],[2011.67,2.6],[2012.17,2.6],[2012.66,2.6],[2013.16,2.45],[2013.66,2.05],[2014.17,2.4],[2014.42,2.0],[2014.67,1.35],[2014.92,2.1],[2015.17,1.85],[2015.41,1.65],[2015.66,1.35],[2015.9,2.2],[2016.16,1.75],[2016.4,1.5],[2016.66,1.35],[2016.91,2.05],[2017.16,2.05],[2017.42,2.1],[2017.67,2.0],[2017.93,2.2],[2018.18,2.2],[2018.43,2.3],[2018.68,2.3],[2018.93,2.4],[2019.19,2.5],[2019.44,2.65],[2019.69,2.9],[2019.94,2.5],[2020.18,2.5],[2020.43,2.4],[2020.68,2.3]];
const POL_BAND = [[1999,2000,6.6,7.8],[2000,2001,5.4,6.8],[2001,2002,6,8],[2002,2004,2,4],[2004,2020.75,1.5,3.5]];
const POL_TARGET = [[2004,2020.75,2.5]];
const POL_REGIME = 2004.0;

// Y tick values per panel
const IND_YTICKS = [0,5,10,15];
const ISR_YTICKS = [-5,0,5,10,15,20];
const MEX_YTICKS = [0,5,10,15,20];
const PER_YTICKS = [0,5,10,15];
const PHL_YTICKS = [0,2,4,6,8,10];
const POL_YTICKS = [0,5,10,15,20];

// ---------------- LAYOUT / STYLE ----------------
const COLORS = {band:'#bfbfbf', target:'#ff0000', cpi:'#1f8c1f', pe2:'#ff8c1a', pe6:'#1a2748', axis:'#555', grid:'#e8e8e8'};

const PANELS = [
  {title:'(g) India', col:0, plotTop:60, titleY:18, xr:[1999.61,2021.13], yr:[-0.45,16.66], yt:IND_YTICKS, cpi:IND_CPI, pe2:IND_PE2, pe6:IND_PE6, band:IND_BAND, target:IND_TARGET, regime:IND_REGIME},
  {title:'(h) Israel', col:1, plotTop:60, titleY:18, xr:[1988.43,2021.29], yr:[-5.73,22.0], yt:ISR_YTICKS, cpi:ISR_CPI, pe2:ISR_PE2, pe6:ISR_PE6, band:ISR_BAND, target:ISR_TARGET, regime:ISR_REGIME},
  {title:'(i) Mexico', col:0, plotTop:512, titleY:471, xr:[1997.6,2021.17], yr:[-0.53,20.56], yt:MEX_YTICKS, cpi:MEX_CPI, pe2:MEX_PE2, pe6:MEX_PE6, band:MEX_BAND, target:MEX_TARGET, regime:MEX_REGIME},
  {title:'(j) Peru', col:1, plotTop:512, titleY:471, xr:[1994.49,2021.23], yr:[-1.55,15.47], yt:PER_YTICKS, cpi:PER_CPI, pe2:PER_PE2, pe6:PER_PE6, band:PER_BAND, target:PER_TARGET, regime:PER_REGIME},
  {title:'(k) Philippines', col:0, plotTop:965, titleY:924, xr:[1994.52,2021.2], yr:[-0.67,11.0], yt:PHL_YTICKS, cpi:PHL_CPI, pe2:PHL_PE2, pe6:PHL_PE6, band:PHL_BAND, target:PHL_TARGET, regime:PHL_REGIME},
  {title:'(l) Poland', col:1, plotTop:965, titleY:924, xr:[1994.49,2021.23], yr:[-1.86,20.56], yt:POL_YTICKS, cpi:POL_CPI, pe2:POL_PE2, pe6:POL_PE6, band:POL_BAND, target:POL_TARGET, regime:POL_REGIME}
];

Chart.defaults.font.family = '"Liberation Sans", Arial, Helvetica, sans-serif';
Chart.defaults.font.size = 13;
Chart.defaults.color = '#222';
Chart.defaults.animation = false;

function toXY(pairs){ return pairs.map(p => ({x:p[0], y:p[1]})); }
function stepPoints(segs, idx){
  const pts = []; let prev = null;
  segs.forEach(s => {
    if (prev !== null && Math.abs(s[0]-prev) > 1e-6) pts.push({x:(prev+s[0])/2, y:null});
    pts.push({x:s[0], y:s[idx]}, {x:s[1], y:s[idx]});
    prev = s[1];
  });
  return pts;
}
function isMajor(v){ return Math.abs(v/5 - Math.round(v/5)) < 1e-6; }

const regimeLine = {
  id:'regimeLine',
  afterDatasetsDraw(chart, args, opts){
    if (opts.x == null) return;
    const {ctx, chartArea, scales} = chart;
    const px = Math.round(scales.x.getPixelForValue(opts.x)) + 0.5;
    ctx.save();
    ctx.beginPath();
    ctx.setLineDash([3,3]);
    ctx.strokeStyle = '#444';
    ctx.lineWidth = 1;
    ctx.moveTo(px, chartArea.top);
    ctx.lineTo(px, chartArea.bottom);
    ctx.stroke();
    ctx.restore();
  }
};

function legendHTML(){
  const lab = SERIES_LABELS.map(s => s.replace(/\|e\|/, '<sup>e</sup>'));
  return `
  <div class="sw" style="left:5px;top:5px;width:50px;height:13px;background:${COLORS.band}"></div>
  <div class="t" style="left:62px;top:4px">${lab[0]}</div>
  <div class="sw" style="left:211px;top:11px;width:50px;height:1.4px;background:${COLORS.target}"></div>
  <div class="t" style="left:268px;top:4px">${lab[1]}</div>
  <div class="sw" style="left:5px;top:29.5px;width:50px;height:1.5px;background:${COLORS.cpi}"></div>
  <div class="t" style="left:62px;top:23px">${lab[2]}</div>
  <svg class="sw" style="left:233px;top:27px" width="7" height="7"><path d="M1 1L6 6M6 1L1 6" stroke="${COLORS.pe2}" stroke-width="1.5"/></svg>
  <div class="t" style="left:268px;top:23px">${lab[3]}</div>
  <div class="sw" style="left:27px;top:45px;width:7px;height:7px;border-radius:50%;background:${COLORS.pe6}"></div>
  <div class="t" style="left:62px;top:42px">${lab[4]}</div>`;
}

PANELS.forEach(p => {
  const colLeft = p.col === 0 ? 0 : 524;
  const width = p.col === 0 ? 518 : 513;
  const plotRight = p.col === 0 ? 505 : 1030;
  const top = p.plotTop - 15;

  const t = document.createElement('div');
  t.className = 'ttl';
  t.textContent = p.title;
  const tl = p.col === 0 ? 0 : 520;
  t.style.cssText = `left:${tl}px;width:${p.col===0?518:519}px;top:${p.titleY-15}px;`;
  document.body.appendChild(t);

  const wrap = document.createElement('div');
  wrap.className = 'wrap';
  wrap.style.cssText = `left:${colLeft}px;top:${top}px;width:${width}px;height:380px;`;
  const canvas = document.createElement('canvas');
  wrap.appendChild(canvas);
  document.body.appendChild(wrap);

  const lg = document.createElement('div');
  lg.className = 'lg';
  lg.style.left = (plotRight - 350) + 'px';
  lg.style.top = (p.plotTop + 4) + 'px';
  lg.innerHTML = legendHTML();
  document.body.appendChild(lg);

  const datasets = [];
  if (p.band.length){
    datasets.push({label:SERIES_LABELS[0]+' hi', data:stepPoints(p.band,3), borderWidth:0, borderColor:'rgba(0,0,0,0)', pointRadius:0, fill:false, spanGaps:false, order:10});
    datasets.push({label:SERIES_LABELS[0], data:stepPoints(p.band,2), borderWidth:0, borderColor:'rgba(0,0,0,0)', pointRadius:0, fill:'-1', backgroundColor:COLORS.band, spanGaps:false, order:9});
  }
  if (p.target.length){
    datasets.push({label:SERIES_LABELS[1], data:stepPoints(p.target,2), borderColor:COLORS.target, borderWidth:1.3, pointRadius:0, fill:false, spanGaps:false, order:8});
  }
  datasets.push({label:SERIES_LABELS[2], data:toXY(p.cpi), borderColor:COLORS.cpi, borderWidth:1.25, pointRadius:0, fill:false, tension:0, order:7});
  datasets.push({label:SERIES_LABELS[3], data:toXY(p.pe2), showLine:false, pointStyle:'crossRot', pointRadius:2.6, borderColor:COLORS.pe2, backgroundColor:COLORS.pe2, borderWidth:1.4, order:6});
  datasets.push({label:SERIES_LABELS[4], data:toXY(p.pe6), showLine:false, pointStyle:'circle', pointRadius:3.2, borderColor:COLORS.pe6, backgroundColor:COLORS.pe6, borderWidth:0, order:5});

  const xmin = p.xr[0], xmax = p.xr[1];
  new Chart(canvas, {
    type:'line',
    data:{datasets},
    options:{
      responsive:true, maintainAspectRatio:false, animation:false,
      layout:{padding:{left:0, right:width-(plotRight-colLeft), top:15, bottom:0}},
      plugins:{legend:{display:false}, tooltip:{enabled:false}, regimeLine:{x:p.regime}},
      elements:{line:{tension:0}},
      scales:{
        x:{type:'linear', min:xmin, max:xmax,
          afterBuildTicks:s => { const a=[]; for(let v=Math.ceil(xmin*2)/2; v<=xmax+1e-9; v+=0.5) a.push({value:v}); s.ticks=a; },
          ticks:{autoSkip:false, maxRotation:0, minRotation:0, padding:6, color:'#222', callback:v => isMajor(v) ? (Math.round(v) + TICK_SUFFIX) : ''},
          grid:{color:ctx => (ctx.tick && isMajor(ctx.tick.value)) ? COLORS.grid : 'rgba(0,0,0,0)', tickColor:COLORS.axis, tickLength:4, lineWidth:1},
          border:{display:true, color:COLORS.axis, width:1},
          afterFit:s => { s.height = 36; s.paddingLeft = 0; s.paddingRight = 0; }
        },
        y:{type:'linear', min:p.yr[0], max:p.yr[1],
          afterBuildTicks:s => { s.ticks = p.yt.map(v => ({value:v})); },
          ticks:{minRotation:90, maxRotation:90, crossAlign:'center', padding:3, color:'#222', autoSkip:false},
          grid:{color:COLORS.grid, tickColor:COLORS.axis, tickLength:5, lineWidth:1},
          border:{display:true, color:COLORS.axis, width:1},
          title:{display:true, text:'inflation (%)', color:'#222', font:{size:13}, padding:{top:9, bottom:0}},
          afterFit:s => { s.width = 46; s.paddingTop = 0; s.paddingBottom = 0; }
        }
      }
    },
    plugins:[regimeLine]
  });
});
</script>
</body></html>
